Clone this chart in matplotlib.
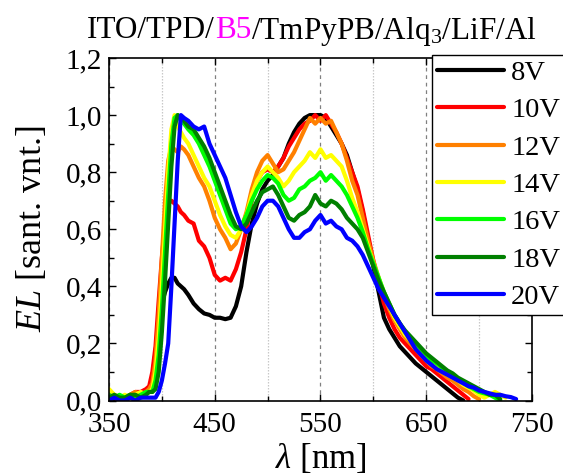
import numpy as np
import matplotlib
matplotlib.use("Agg")
import matplotlib.pyplot as plt
from matplotlib.ticker import FixedLocator, FuncFormatter
from matplotlib.offsetbox import TextArea, HPacker, AnchoredOffsetbox

nan = np.nan

# Wavelength grid (nm)
wavelength = [350, 355, 360, 365, 370, 375, 380, 385, 388, 391, 394, 397, 400,
              403, 406, 409, 412, 415, 418, 421,
              425, 430, 435, 440, 445, 450, 455, 460, 465, 470, 475, 480, 485,
              490, 495, 500, 505, 510, 515, 520, 525, 530, 535, 540, 545, 550,
              555, 560, 565, 570, 575, 580, 585, 590, 595, 600, 605, 610, 615,
              620, 625, 630, 635, 640, 645, 650, 655, 660, 665, 670, 675, 680,
              685, 690, 695, 700, 705, 710, 715, 720, 725, 730, 735, 740]

# Normalised electroluminescence spectra
el_8v = [0.01, 0.00, 0.01, 0.00, 0.01, 0.01, 0.02, 0.03, 0.04, 0.08, 0.17, 0.27, 0.34,
         0.38, 0.41, 0.43, 0.43, 0.41, 0.40, 0.39,
         0.37, 0.34, 0.32, 0.305, 0.30, 0.29, 0.29, 0.285, 0.29, 0.33, 0.40, 0.52, 0.62,
         0.69, 0.74, 0.77, 0.79, 0.82, 0.85, 0.90, 0.94, 0.97, 0.99, 1.00, 1.00, 1.00,
         0.99, 0.96, 0.93, 0.90, 0.86, 0.80, 0.74, 0.66, 0.56, 0.47, 0.38, 0.29, 0.25,
         0.22, 0.19, 0.17, 0.15, 0.13, 0.115, 0.10, 0.085, 0.07, 0.055, 0.04, 0.025, 0.01,
         0.00, nan, nan, nan, nan, nan, nan, nan, nan, nan, nan, nan]

el_10v = [0.02, 0.01, 0.00, 0.01, 0.02, 0.03, 0.03, 0.04, 0.05, 0.10, 0.19, 0.35, 0.50,
          0.62, 0.69, 0.70, 0.69, 0.68, 0.66, 0.65,
          0.63, 0.62, 0.56, 0.54, 0.50, 0.44, 0.42, 0.43, 0.42, 0.46, 0.52, 0.60, 0.70,
          0.77, 0.80, 0.81, 0.80, 0.82, 0.85, 0.89, 0.92, 0.95, 0.97, 0.98, 1.00, 0.98,
          1.00, 0.97, 0.94, 0.90, 0.85, 0.80, 0.75, 0.67, 0.58, 0.49, 0.41, 0.34, 0.29,
          0.25, 0.22, 0.20, 0.18, 0.16, 0.14, 0.12, 0.11, 0.095, 0.08, 0.065, 0.05, 0.035,
          0.02, 0.005, nan, nan, nan, nan, nan, nan, nan, nan, nan, nan]

el_12v = [0.01, 0.02, 0.01, 0.01, 0.02, 0.03, 0.02, 0.03, 0.04, 0.06, 0.14, 0.30, 0.50,
          0.70, 0.84, 0.89, 0.88, 0.87, 0.89, 0.88,
          0.86, 0.82, 0.78, 0.75, 0.70, 0.64, 0.60, 0.57, 0.53, 0.55, 0.60, 0.66, 0.74,
          0.80, 0.84, 0.86, 0.83, 0.80, 0.81, 0.84, 0.87, 0.91, 0.95, 0.99, 0.97, 0.99,
          0.97, 0.98, 0.94, 0.90, 0.84, 0.77, 0.72, 0.64, 0.56, 0.49, 0.43, 0.37, 0.32,
          0.28, 0.25, 0.22, 0.20, 0.18, 0.16, 0.14, 0.12, 0.11, 0.095, 0.08, 0.07, 0.055,
          0.04, 0.03, 0.015, 0.005, nan, nan, nan, nan, nan, nan, nan, nan]

el_14v = [0.04, 0.02, 0.01, 0.02, 0.01, 0.02, 0.03, 0.02, 0.03, 0.04, 0.10, 0.22, 0.40,
          0.60, 0.80, 0.95, 1.00, 0.96, 0.94, 0.92,
          0.90, 0.86, 0.82, 0.78, 0.75, 0.70, 0.65, 0.61, 0.58, 0.57, 0.60, 0.65, 0.72,
          0.77, 0.80, 0.82, 0.80, 0.78, 0.75, 0.77, 0.80, 0.82, 0.84, 0.87, 0.85, 0.88,
          0.85, 0.86, 0.84, 0.82, 0.77, 0.71, 0.66, 0.60, 0.54, 0.48, 0.43, 0.38, 0.33,
          0.29, 0.26, 0.23, 0.21, 0.19, 0.17, 0.15, 0.13, 0.12, 0.105, 0.09, 0.08, 0.07,
          0.055, 0.045, 0.035, 0.02, 0.01, 0.02, 0.03, 0.02, 0.01, nan, nan, nan]

el_16v = [0.02, 0.01, 0.02, 0.01, 0.02, 0.01, 0.02, 0.03, 0.03, 0.03, 0.07, 0.16, 0.32,
          0.52, 0.72, 0.90, 0.99, 1.00, 0.98, 0.97,
          0.95, 0.93, 0.90, 0.86, 0.82, 0.77, 0.72, 0.67, 0.62, 0.60, 0.61, 0.65, 0.70,
          0.74, 0.77, 0.79, 0.78, 0.76, 0.72, 0.70, 0.71, 0.74, 0.75, 0.77, 0.78, 0.80,
          0.77, 0.79, 0.77, 0.75, 0.72, 0.68, 0.64, 0.59, 0.53, 0.48, 0.43, 0.38, 0.34,
          0.30, 0.27, 0.24, 0.22, 0.20, 0.18, 0.16, 0.14, 0.13, 0.115, 0.10, 0.09, 0.075,
          0.065, 0.05, 0.04, 0.03, 0.025, 0.02, 0.01, 0.00, nan, nan, nan, nan]

el_18v = [0.01, 0.02, 0.01, 0.01, 0.02, 0.02, 0.01, 0.02, 0.03, 0.03, 0.04, 0.10, 0.24,
          0.42, 0.62, 0.82, 0.96, 1.00, 0.99, 0.98,
          0.96, 0.95, 0.92, 0.89, 0.85, 0.80, 0.75, 0.70, 0.65, 0.61, 0.60, 0.62, 0.66,
          0.70, 0.73, 0.74, 0.75, 0.72, 0.68, 0.64, 0.63, 0.65, 0.66, 0.68, 0.72, 0.69,
          0.68, 0.70, 0.69, 0.67, 0.64, 0.62, 0.60, 0.57, 0.52, 0.47, 0.42, 0.38, 0.34,
          0.30, 0.27, 0.245, 0.225, 0.205, 0.185, 0.165, 0.15, 0.135, 0.12, 0.105, 0.095, 0.08,
          0.07, 0.06, 0.05, 0.04, 0.03, 0.02, 0.02, 0.005, nan, nan, nan, nan]

el_20v = [0.00, 0.01, 0.00, 0.00, 0.01, 0.00, 0.01, 0.01, 0.01, 0.01, 0.01, 0.03, 0.07,
          0.13, 0.20, 0.40, 0.62, 0.84, 1.00, 0.99,
          0.98, 0.96, 0.95, 0.96, 0.90, 0.86, 0.82, 0.78, 0.72, 0.66, 0.61, 0.59, 0.61,
          0.64, 0.68, 0.70, 0.70, 0.68, 0.64, 0.60, 0.57, 0.57, 0.59, 0.60, 0.63, 0.65,
          0.62, 0.63, 0.61, 0.60, 0.57, 0.56, 0.54, 0.51, 0.47, 0.43, 0.39, 0.36, 0.33,
          0.30, 0.27, 0.24, 0.21, 0.18, 0.16, 0.14, 0.125, 0.11, 0.10, 0.09, 0.08, 0.07,
          0.06, 0.05, 0.045, 0.035, 0.03, 0.025, 0.02, 0.02, 0.015, 0.012, 0.005, nan]

series = [el_8v, el_10v, el_12v, el_14v, el_16v, el_18v, el_20v]
labels = ["8V", "10V", "12V", "14V", "16V", "18V", "20V"]
colors = ["#000000", "#FF0000", "#FF8000", "#FFFF00", "#00FF00", "#008000", "#0000FF"]

x_major = [350, 450, 550, 650, 750]
x_minor = [400, 500, 600, 700]
y_major = [0.0, 0.2, 0.4, 0.6, 0.8, 1.0, 1.2]
y_minor = [0.1, 0.3, 0.5, 0.7, 0.9, 1.1]

plt.rcParams["font.family"] = ["Liberation Serif", "DejaVu Serif"]
plt.rcParams["mathtext.fontset"] = "custom"
plt.rcParams["mathtext.rm"] = "Liberation Serif"
plt.rcParams["mathtext.it"] = "Liberation Serif:italic"
plt.rcParams["mathtext.bf"] = "Liberation Serif:bold"

fig = plt.figure(figsize=(5.63, 4.76), dpi=100)
ax = fig.add_axes([0.1936, 0.1586, 0.7513, 0.7195])

for y, lab, col in zip(series, labels, colors):
    ax.plot(wavelength, y, color=col, lw=3.0, label=lab,
            solid_joinstyle="round", solid_capstyle="round")

ax.set_xlim(350, 750)
ax.set_ylim(0.0, 1.2)
ax.xaxis.set_major_locator(FixedLocator(x_major))
ax.xaxis.set_minor_locator(FixedLocator(x_minor))
ax.yaxis.set_major_locator(FixedLocator(y_major))
ax.yaxis.set_minor_locator(FixedLocator(y_minor))
ax.yaxis.set_major_formatter(FuncFormatter(lambda v, p: f"{v:.1f}".replace(".", ",")))

ax.grid(True, axis="x", which="major", color="#808080", lw=0.9, ls=(0, (3, 3)))
ax.grid(True, axis="x", which="minor", color="#c8c8c8", lw=0.9, ls=(0, (1.2, 1.2)))
ax.set_axisbelow(True)

ax.tick_params(which="both", direction="in", top=True, right=True,
               labelsize=21, width=1.0, color="black")
ax.tick_params(which="major", length=5)
ax.tick_params(which="minor", length=3.5)
ax.tick_params(axis="y", pad=5)
ax.tick_params(axis="x", pad=8)
for s in ax.spines.values():
    s.set_linewidth(1.2)

ax.set_xlabel(r"$\mathit{λ}$ [nm]", fontsize=25, labelpad=3)
ax.set_ylabel(r"$\mathit{EL}$ [sant. vnt.]", fontsize=26, labelpad=12)

leg = fig.legend(loc="upper left", bbox_to_anchor=(432 / 563, 1 - 55 / 476),
                 bbox_transform=fig.transFigure, borderaxespad=0, fontsize=20.5,
                 frameon=True, fancybox=False, framealpha=1, edgecolor="black",
                 borderpad=0.18, labelspacing=0.40, handlelength=2.35,
                 handletextpad=0.25)
leg.get_frame().set_linewidth(1.0)

# Title with the emitter layer highlighted
tp = dict(fontsize=22.5, family="Liberation Serif")
parts = [TextArea("ITO/TPD/", textprops=dict(color="black", **tp)),
         TextArea("B5", textprops=dict(color="#FF00FF", **tp)),
         TextArea("/TmPyPB/Alq$_3$/LiF/Al", textprops=dict(color="black", **tp))]
title_box = HPacker(children=parts, align="baseline", pad=0, sep=0)
anchored = AnchoredOffsetbox(loc="center", child=title_box, pad=0, borderpad=0,
                             frameon=False, bbox_to_anchor=(312 / 563, 1 - 31 / 476),
                             bbox_transform=fig.transFigure)
fig.add_artist(anchored)

fig.savefig("out.png", dpi=100)
